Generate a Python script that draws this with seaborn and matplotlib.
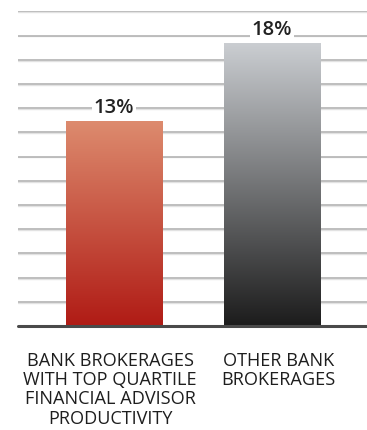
import numpy as np
import pandas as pd
import seaborn as sns
import matplotlib.pyplot as plt
from matplotlib.colors import LinearSegmentedColormap

categories = ["BANK BROKERAGES\nWITH TOP QUARTILE\nFINANCIAL ADVISOR\nPRODUCTIVITY",
              "OTHER BANK\nBROKERAGES"]
values = [13, 18]
value_labels = ["13%", "18%"]
gradients = [("#dd8b6e", "#b01b15"), ("#cbced2", "#1c1c1c")]

sns.set_theme(style="white")
plt.rcParams["font.family"] = ["Open Sans", "DejaVu Sans"]

fig = plt.figure(figsize=(3.67, 4.31), dpi=100)
ax = fig.add_axes([18 / 367, 1 - 327 / 431, 1 - 18 / 367, (327 - 12.3) / 431])

df = pd.DataFrame({"cat": categories, "val": values})
sns.barplot(data=df, x="cat", y="val", ax=ax, width=0.608, color="#cccccc",
            saturation=1, zorder=3)

# horizontal rules with a faint lighter line under each
grid = np.linspace(0, 20, 14)[1:]
for g in grid:
    ax.axhline(g, color="#b9b9b9", lw=1.3, zorder=1)
    ax.axhline(g - 0.06, color="#e2e2e2", lw=1.0, zorder=0.9)
ax.axhline(0, color="#4a4a4a", lw=2.2, zorder=5, clip_on=False)

# vertical gradient fill inside each bar
for patch, (top, bottom) in zip(ax.patches, gradients):
    x0, y0 = patch.get_x(), patch.get_y()
    w, h = patch.get_width(), patch.get_height()
    cmap = LinearSegmentedColormap.from_list("g", [bottom, top])
    grad = np.linspace(0, 1, 256).reshape(-1, 1)
    im = ax.imshow(grad, cmap=cmap, aspect="auto", origin="lower",
                   extent=[x0, x0 + w, y0, y0 + h], zorder=4)
    im.set_clip_path(patch)
    patch.set_alpha(0)

ax.set_xlim(-0.608, 1.601)
ax.set_ylim(0, 20)

for i, (v, lab) in enumerate(zip(values, value_labels)):
    ax.text(i, v + 0.9, lab, ha="center", va="center", fontsize=14.5,
            fontweight="semibold", color="#222222", zorder=6,
            bbox=dict(facecolor="white", edgecolor="none", pad=1.5))

ax.set_xticks([])
ax.set_yticks([])
ax.set_xlabel("")
ax.set_ylabel("")
for s in ax.spines.values():
    s.set_visible(False)

label_x = [-0.025, 1.04]
for x, c in zip(label_x, categories):
    ax.text(x, -1.6, c, ha="center", va="top", fontsize=13.1,
            color="#1e1e1e", linespacing=1.08, multialignment="center")

fig.savefig("out.png", dpi=100)
